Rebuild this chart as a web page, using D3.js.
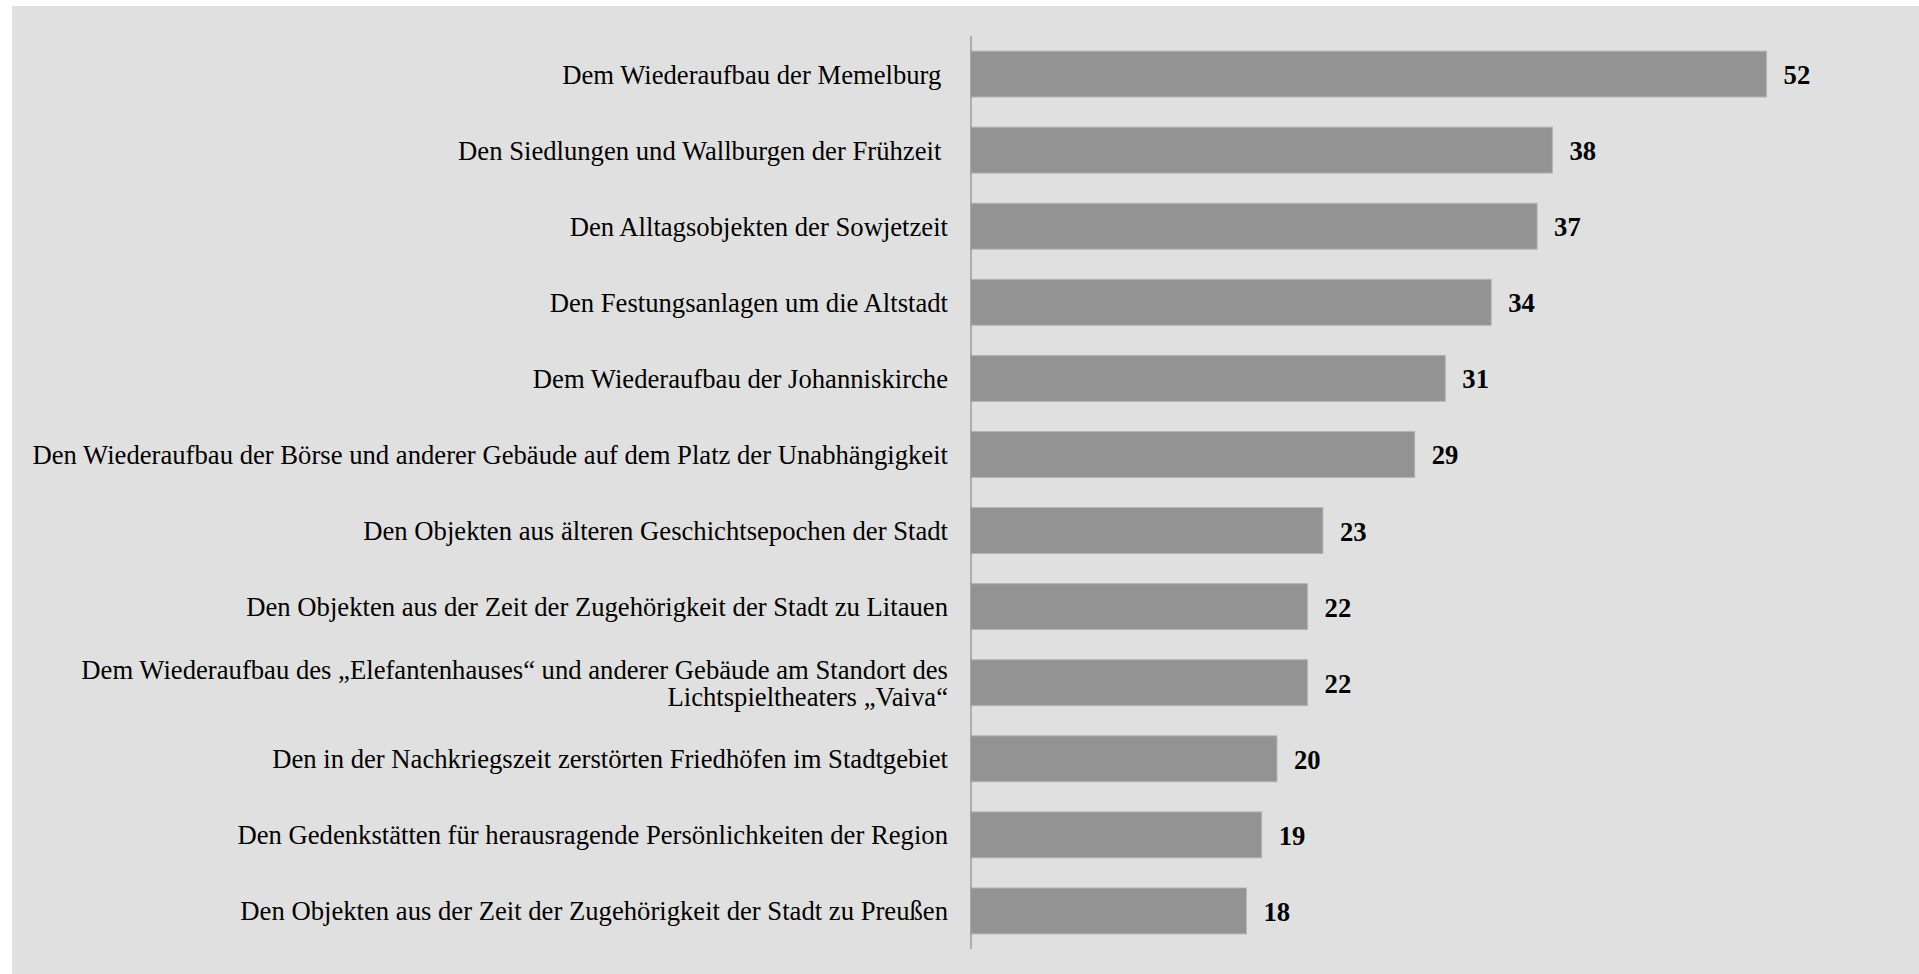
<!DOCTYPE html>
<html>
<head>
<meta charset="utf-8">
<script src="https://cdn.jsdelivr.net/npm/d3@7"></script>
<style>
  html, body { margin: 0; padding: 0; background: #fff; }
  svg { display: block; }
  .cat { font-family: "Liberation Serif", "Times New Roman", serif; font-size: 26.67px; fill: #000; white-space: pre; }
  .val { font-family: "Liberation Serif", "Times New Roman", serif; font-size: 26.67px; font-weight: bold; fill: #000; }
</style>
</head>
<body>
<div id="root"></div>
<script>
// Kategorien (von oben nach unten) und Werte
const categories = [
  ["Dem Wiederaufbau der Memelburg "],
  ["Den Siedlungen und Wallburgen der Frühzeit "],
  ["Den Alltagsobjekten der Sowjetzeit"],
  ["Den Festungsanlagen um die Altstadt"],
  ["Dem Wiederaufbau der Johanniskirche"],
  ["Den Wiederaufbau der Börse und anderer Gebäude auf dem Platz der Unabhängigkeit"],
  ["Den Objekten aus älteren Geschichtsepochen der Stadt"],
  ["Den Objekten aus der Zeit der Zugehörigkeit der Stadt zu Litauen"],
  ["Dem Wiederaufbau des „Elefantenhauses“ und anderer Gebäude am Standort des", "Lichtspieltheaters „Vaiva“"],
  ["Den in der Nachkriegszeit zerstörten Friedhöfen im Stadtgebiet"],
  ["Den Gedenkstätten für herausragende Persönlichkeiten der Region"],
  ["Den Objekten aus der Zeit der Zugehörigkeit der Stadt zu Preußen"]
];
const values = [52, 38, 37, 34, 31, 29, 23, 22, 22, 20, 19, 18];

const W = 1919, H = 974;
const axisX = 971;
const plotTop = 36, plotBottom = 949;

const svg = d3.select('#root').append('svg').attr('width', W).attr('height', H);

// Hintergrund
svg.append('rect').attr('x', 12).attr('y', 6).attr('width', W - 12).attr('height', H - 6).attr('fill', '#e0e0e0');

const idx = d3.range(categories.length);
const y = d3.scaleBand().domain(idx).range([plotTop, plotBottom]).paddingInner(0.396).paddingOuter(0.198);
const x = d3.scaleLinear().domain([0, 60]).range([axisX, axisX + 918]);

// Balken
svg.selectAll('rect.bar').data(idx).enter().append('rect')
  .attr('class', 'bar')
  .attr('x', x(0))
  .attr('y', i => y(i))
  .attr('width', i => x(values[i]) - x(0))
  .attr('height', y.bandwidth())
  .attr('fill', '#939393')
  .attr('stroke', '#b5b5b5')
  .attr('stroke-width', 1);

// Achse
svg.append('line')
  .attr('x1', axisX).attr('x2', axisX)
  .attr('y1', plotTop).attr('y2', plotBottom)
  .attr('stroke', '#8c8c8c').attr('stroke-width', 1.2);

// Kategorienbeschriftung
idx.forEach(i => {
  const lines = categories[i];
  const cy = y(i) + y.bandwidth() / 2;
  const lh = 27;
  lines.forEach((t, k) => {
    const off = (k - (lines.length - 1) / 2) * lh;
    svg.append('text')
      .attr('class', 'cat')
      .attr('x', axisX - 23)
      .attr('y', cy + off + 9.5)
      .attr('text-anchor', 'end')
      .text(t);
  });
});

// Werte
svg.selectAll('text.val').data(idx).enter().append('text')
  .attr('class', 'val')
  .attr('x', i => x(values[i]) + 17)
  .attr('y', i => y(i) + y.bandwidth() / 2 + 10)
  .text(i => values[i]);
</script>
</body>
</html>
